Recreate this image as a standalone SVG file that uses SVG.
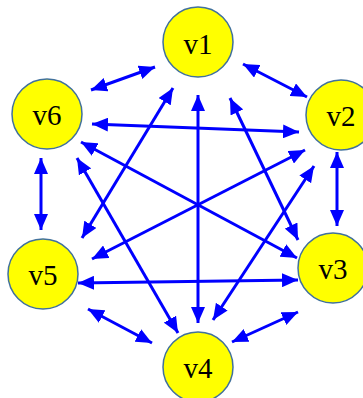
<svg xmlns="http://www.w3.org/2000/svg" width="363" height="398" viewBox="0 0 363 398">
<style>
.n circle{fill:#FFFF00;stroke:#41719C;stroke-width:1.5}
.n text{font-family:"Liberation Serif","Times New Roman",serif;font-size:29px;fill:#000;text-anchor:middle}
.e line{stroke:#0000FF;stroke-width:3;marker-start:url(#ah);marker-end:url(#ah)}
</style>
<defs>
<marker id="ah" markerUnits="userSpaceOnUse" markerWidth="18" markerHeight="14" refX="16" refY="7" orient="auto-start-reverse" viewBox="0 0 18 14">
<path d="M0,0 L16,7 L0,14 z" fill="#0000FF"/>
</marker>
</defs>
<g id="edges" class="e">
<line x1="155" y1="67" x2="91" y2="90"/>
<line x1="243" y1="64" x2="307" y2="97"/>
<line x1="337" y1="152" x2="337" y2="226"/>
<line x1="298" y1="312" x2="232" y2="342"/>
<line x1="88" y1="309" x2="152" y2="343"/>
<line x1="41" y1="158" x2="41" y2="230"/>
<line x1="92" y1="124" x2="299" y2="132"/>
<line x1="78" y1="283" x2="298" y2="280"/>
<line x1="198" y1="95" x2="198" y2="323"/>
<line x1="173" y1="88" x2="82" y2="238"/>
<line x1="230" y1="98" x2="298" y2="240"/>
<line x1="81" y1="142" x2="297" y2="258"/>
<line x1="305" y1="150" x2="92" y2="259"/>
<line x1="314" y1="166" x2="213" y2="320"/>
<line x1="77" y1="158" x2="178" y2="333"/>
</g>
<g id="v1" class="n"><circle cx="198" cy="42" r="35"/><text x="198" y="54">v1</text></g>
<g id="v2" class="n"><circle cx="341" cy="115" r="35"/><text x="341" y="126">v2</text></g>
<g id="v3" class="n"><circle cx="333" cy="268" r="35"/><text x="333" y="279">v3</text></g>
<g id="v4" class="n"><circle cx="198" cy="367" r="35"/><text x="198" y="378">v4</text></g>
<g id="v5" class="n"><circle cx="43" cy="274" r="35"/><text x="43" y="285">v5</text></g>
<g id="v6" class="n"><circle cx="47" cy="114" r="35"/><text x="47" y="125">v6</text></g>
</svg>
